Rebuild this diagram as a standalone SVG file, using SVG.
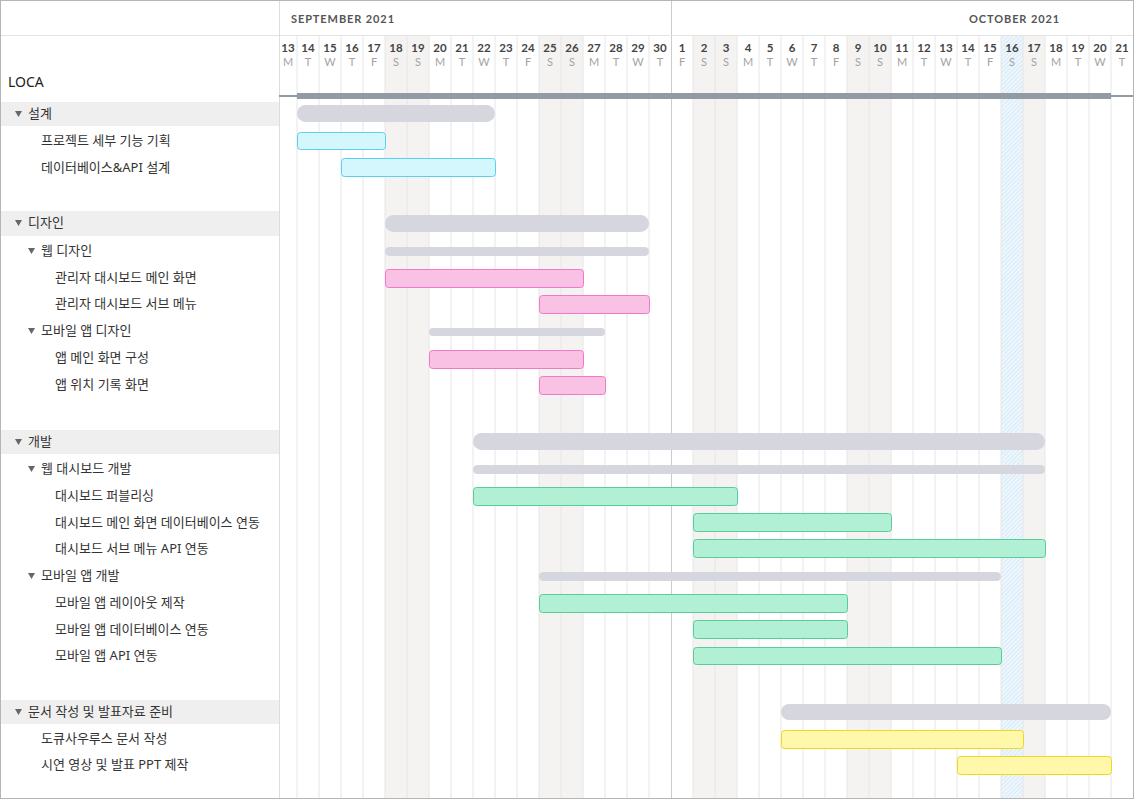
<svg xmlns="http://www.w3.org/2000/svg" width="1134" height="799" viewBox="0 0 1134 799">
<defs>
<pattern id="hatch" patternUnits="userSpaceOnUse" width="3" height="3" patternTransform="rotate(45)">
<rect width="3" height="3" fill="#f1f8fd"/>
<rect width="1.2" height="3" fill="#d6eaf7"/>
</pattern>
<style>
.lbl{font-family:"Noto Sans","Noto Sans CJK KR",sans-serif;font-size:13px;fill:#333}
.title{font-family:"Noto Sans","Noto Sans CJK KR",sans-serif;font-size:14px;fill:#222}
.mon{font-family:"Lato","Liberation Sans",sans-serif;font-size:11px;font-weight:bold;fill:#555;letter-spacing:0.9px}
.dn{font-family:"Lato","Liberation Sans",sans-serif;font-size:11.5px;font-weight:bold;fill:#444;text-anchor:middle}
.wd{font-family:"Lato","Liberation Sans",sans-serif;font-size:11px;fill:#a3a3a3;text-anchor:middle}
.band{fill:#efefef}
.tri{fill:#666}
.grp{fill:#d6d6de}
.cy{fill:#d4f6fd;stroke:#5ccfef;stroke-width:1}
.pk{fill:#f9c2e5;stroke:#f578c8;stroke-width:1}
.gr{fill:#b1f0d5;stroke:#58cd98;stroke-width:1}
.ye{fill:#fff7a9;stroke:#eed81e;stroke-width:1}
</style>
</defs>
<rect x="0" y="0" width="1134" height="799" fill="#ffffff"/>
<g id="calendar">
<rect x="385" y="35" width="44" height="764" fill="#f4f3f2"/>
<rect x="539" y="35" width="44" height="764" fill="#f4f3f2"/>
<rect x="693" y="35" width="44" height="764" fill="#f4f3f2"/>
<rect x="847" y="35" width="44" height="764" fill="#f4f3f2"/>
<rect x="1023" y="35" width="22" height="764" fill="#f4f3f2"/>
<rect x="1001" y="35" width="22" height="764" fill="url(#hatch)"/>
<path d="M297 35V799M319 35V799M341 35V799M363 35V799M385 35V799M407 35V799M429 35V799M451 35V799M473 35V799M495 35V799M517 35V799M539 35V799M561 35V799M583 35V799M605 35V799M627 35V799M649 35V799M693 35V799M715 35V799M737 35V799M759 35V799M781 35V799M803 35V799M825 35V799M847 35V799M869 35V799M891 35V799M913 35V799M935 35V799M957 35V799M979 35V799M1001 35V799M1023 35V799M1045 35V799M1067 35V799M1089 35V799M1111 35V799" stroke="#e6e6e6" stroke-width="1" fill="none"/>
<line x1="671.5" y1="0" x2="671.5" y2="799" stroke="#cccccc" stroke-width="1"/>
<line x1="0" y1="35.5" x2="1134" y2="35.5" stroke="#e3e3e3" stroke-width="1"/>
<line x1="279.5" y1="0" x2="279.5" y2="799" stroke="#dddddd" stroke-width="1"/>
<text class="mon" x="291" y="23">SEPTEMBER 2021</text>
<text class="mon" x="969" y="23">OCTOBER 2021</text>
<g>
<text class="dn" x="288" y="52">13</text><text class="wd" x="288" y="66">M</text>
<text class="dn" x="308" y="52">14</text><text class="wd" x="308" y="66">T</text>
<text class="dn" x="330" y="52">15</text><text class="wd" x="330" y="66">W</text>
<text class="dn" x="352" y="52">16</text><text class="wd" x="352" y="66">T</text>
<text class="dn" x="374" y="52">17</text><text class="wd" x="374" y="66">F</text>
<text class="dn" x="396" y="52">18</text><text class="wd" x="396" y="66">S</text>
<text class="dn" x="418" y="52">19</text><text class="wd" x="418" y="66">S</text>
<text class="dn" x="440" y="52">20</text><text class="wd" x="440" y="66">M</text>
<text class="dn" x="462" y="52">21</text><text class="wd" x="462" y="66">T</text>
<text class="dn" x="484" y="52">22</text><text class="wd" x="484" y="66">W</text>
<text class="dn" x="506" y="52">23</text><text class="wd" x="506" y="66">T</text>
<text class="dn" x="528" y="52">24</text><text class="wd" x="528" y="66">F</text>
<text class="dn" x="550" y="52">25</text><text class="wd" x="550" y="66">S</text>
<text class="dn" x="572" y="52">26</text><text class="wd" x="572" y="66">S</text>
<text class="dn" x="594" y="52">27</text><text class="wd" x="594" y="66">M</text>
<text class="dn" x="616" y="52">28</text><text class="wd" x="616" y="66">T</text>
<text class="dn" x="638" y="52">29</text><text class="wd" x="638" y="66">W</text>
<text class="dn" x="660" y="52">30</text><text class="wd" x="660" y="66">T</text>
<text class="dn" x="682" y="52">1</text><text class="wd" x="682" y="66">F</text>
<text class="dn" x="704" y="52">2</text><text class="wd" x="704" y="66">S</text>
<text class="dn" x="726" y="52">3</text><text class="wd" x="726" y="66">S</text>
<text class="dn" x="748" y="52">4</text><text class="wd" x="748" y="66">M</text>
<text class="dn" x="770" y="52">5</text><text class="wd" x="770" y="66">T</text>
<text class="dn" x="792" y="52">6</text><text class="wd" x="792" y="66">W</text>
<text class="dn" x="814" y="52">7</text><text class="wd" x="814" y="66">T</text>
<text class="dn" x="836" y="52">8</text><text class="wd" x="836" y="66">F</text>
<text class="dn" x="858" y="52">9</text><text class="wd" x="858" y="66">S</text>
<text class="dn" x="880" y="52">10</text><text class="wd" x="880" y="66">S</text>
<text class="dn" x="902" y="52">11</text><text class="wd" x="902" y="66">M</text>
<text class="dn" x="924" y="52">12</text><text class="wd" x="924" y="66">T</text>
<text class="dn" x="946" y="52">13</text><text class="wd" x="946" y="66">W</text>
<text class="dn" x="968" y="52">14</text><text class="wd" x="968" y="66">T</text>
<text class="dn" x="990" y="52">15</text><text class="wd" x="990" y="66">F</text>
<text class="dn" x="1012" y="52">16</text><text class="wd" x="1012" y="66">S</text>
<text class="dn" x="1034" y="52">17</text><text class="wd" x="1034" y="66">S</text>
<text class="dn" x="1056" y="52">18</text><text class="wd" x="1056" y="66">M</text>
<text class="dn" x="1078" y="52">19</text><text class="wd" x="1078" y="66">T</text>
<text class="dn" x="1100" y="52">20</text><text class="wd" x="1100" y="66">W</text>
<text class="dn" x="1122" y="52">21</text><text class="wd" x="1122" y="66">T</text>
</g>
</g>
<g id="project-loca">
<text class="title" x="8" y="87">LOCA</text>
<rect x="279" y="95" width="18" height="2" fill="#929ba3"/>
<rect x="1111" y="95" width="23" height="2" fill="#929ba3"/>
<rect x="297" y="93" width="814" height="6" fill="#929ba3"/>
</g>
<g id="grp-design-plan">
<rect class="band" x="1" y="102" width="278" height="24"/>
<polygon class="tri" points="15,111 22,111 18.5,117"/>
<text class="lbl" x="28" y="118">설계</text>
<rect class="grp" x="297" y="105" width="198" height="17" rx="8.5"/>
</g>
<g id="task-1">
<text class="lbl" x="41" y="145">프로젝트 세부 기능 기획</text>
<rect class="cy" x="297.5" y="132.5" width="88" height="17" rx="3"/>
</g>
<g id="task-2">
<text class="lbl" x="41" y="172">데이터베이스&amp;API 설계</text>
<rect class="cy" x="341.5" y="158.5" width="154" height="18" rx="3"/>
</g>
<g id="grp-design">
<rect class="band" x="1" y="211" width="278" height="25"/>
<polygon class="tri" points="15,220 22,220 18.5,226"/>
<text class="lbl" x="28" y="227">디자인</text>
<rect class="grp" x="385" y="215" width="264" height="17" rx="8.5"/>
</g>
<g id="sub-web-design">
<polygon class="tri" points="28,248 35,248 31.5,254"/>
<text class="lbl" x="41" y="255">웹 디자인</text>
<rect class="grp" x="385" y="247" width="264" height="9" rx="4.5"/>
</g>
<g id="task-3">
<text class="lbl" x="55" y="282">관리자 대시보드 메인 화면</text>
<rect class="pk" x="385.5" y="269.5" width="198" height="18" rx="3"/>
</g>
<g id="task-4">
<text class="lbl" x="55" y="308">관리자 대시보드 서브 메뉴</text>
<rect class="pk" x="539.5" y="295.5" width="110" height="18" rx="3"/>
</g>
<g id="sub-mobile-design">
<polygon class="tri" points="28,328 35,328 31.5,334"/>
<text class="lbl" x="41" y="335">모바일 앱 디자인</text>
<rect class="grp" x="429" y="328" width="176" height="8" rx="4"/>
</g>
<g id="task-5">
<text class="lbl" x="55" y="362">앱 메인 화면 구성</text>
<rect class="pk" x="429.5" y="350.5" width="154" height="18" rx="3"/>
</g>
<g id="task-6">
<text class="lbl" x="55" y="389">앱 위치 기록 화면</text>
<rect class="pk" x="539.5" y="376.5" width="66" height="18" rx="3"/>
</g>
<g id="grp-dev">
<rect class="band" x="1" y="430" width="278" height="24"/>
<polygon class="tri" points="15,439 22,439 18.5,445"/>
<text class="lbl" x="28" y="446">개발</text>
<rect class="grp" x="473" y="433" width="572" height="17" rx="8.5"/>
</g>
<g id="sub-web-dev">
<polygon class="tri" points="28,466 35,466 31.5,472"/>
<text class="lbl" x="41" y="473">웹 대시보드 개발</text>
<rect class="grp" x="473" y="465" width="572" height="9" rx="4.5"/>
</g>
<g id="task-7">
<text class="lbl" x="55" y="500">대시보드 퍼블리싱</text>
<rect class="gr" x="473.5" y="487.5" width="264" height="18" rx="3"/>
</g>
<g id="task-8">
<text class="lbl" x="55" y="527">대시보드 메인 화면 데이터베이스 연동</text>
<rect class="gr" x="693.5" y="513.5" width="198" height="18" rx="3"/>
</g>
<g id="task-9">
<text class="lbl" x="55" y="553">대시보드 서브 메뉴 API 연동</text>
<rect class="gr" x="693.5" y="539.5" width="352" height="18" rx="3"/>
</g>
<g id="sub-mobile-dev">
<polygon class="tri" points="28,573 35,573 31.5,579"/>
<text class="lbl" x="41" y="580">모바일 앱 개발</text>
<rect class="grp" x="539" y="572" width="462" height="9" rx="4.5"/>
</g>
<g id="task-10">
<text class="lbl" x="55" y="607">모바일 앱 레이아웃 제작</text>
<rect class="gr" x="539.5" y="594.5" width="308" height="18" rx="3"/>
</g>
<g id="task-11">
<text class="lbl" x="55" y="634">모바일 앱 데이터베이스 연동</text>
<rect class="gr" x="693.5" y="620.5" width="154" height="18" rx="3"/>
</g>
<g id="task-12">
<text class="lbl" x="55" y="660">모바일 앱 API 연동</text>
<rect class="gr" x="693.5" y="647.5" width="308" height="17" rx="3"/>
</g>
<g id="grp-docs">
<rect class="band" x="1" y="700" width="278" height="24"/>
<polygon class="tri" points="15,709 22,709 18.5,715"/>
<text class="lbl" x="28" y="716">문서 작성 및 발표자료 준비</text>
<rect class="grp" x="781" y="704" width="330" height="16" rx="8"/>
</g>
<g id="task-13">
<text class="lbl" x="41" y="743">도큐사우루스 문서 작성</text>
<rect class="ye" x="781.5" y="730.5" width="242" height="18" rx="3"/>
</g>
<g id="task-14">
<text class="lbl" x="41" y="769">시연 영상 및 발표 PPT 제작</text>
<rect class="ye" x="957.5" y="756.5" width="154" height="18" rx="3"/>
</g>
<g id="connectors"/>
<rect x="0.5" y="0.5" width="1133" height="798" fill="none" stroke="#b5b5b5" stroke-width="1"/>
</svg>
